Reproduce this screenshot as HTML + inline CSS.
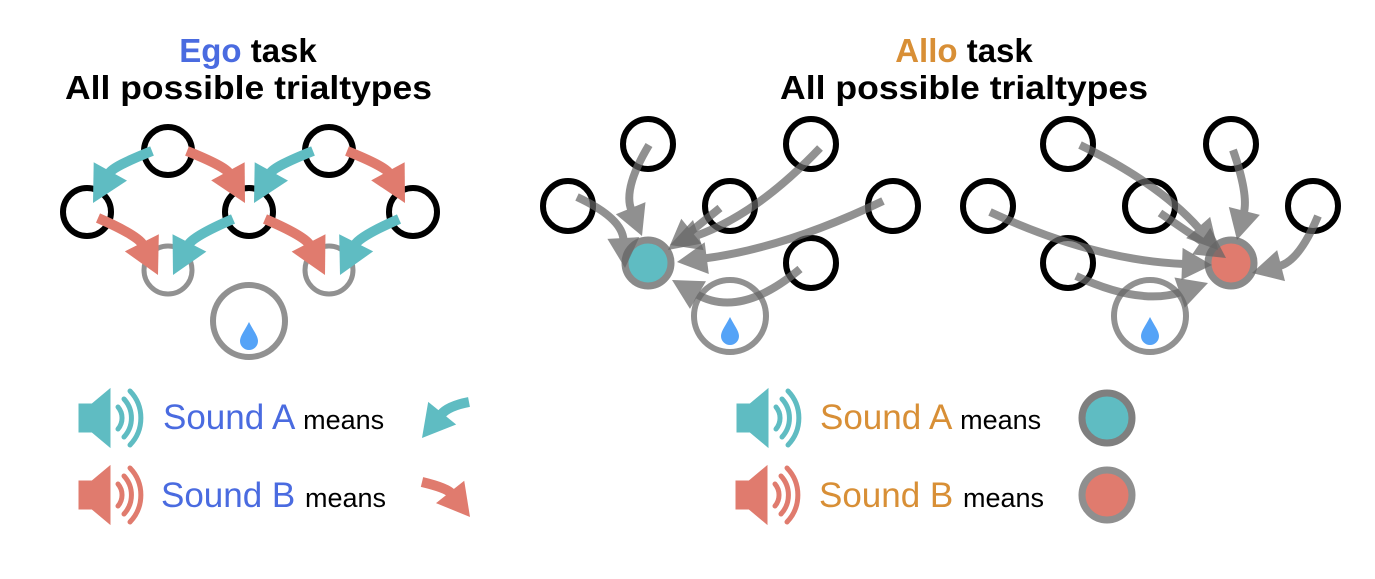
<!DOCTYPE html>
<html><head><meta charset="utf-8"><style>
html,body{margin:0;padding:0;background:#fff;}
svg{display:block;}
text{font-family:"Liberation Sans",Arial,sans-serif;}
</style></head><body>
<svg id="s" width="1375" height="579" viewBox="0 0 1375 579" xmlns="http://www.w3.org/2000/svg">
<defs>
<g id="drop"><path d="M0,-14 C4,-6 9,0 9,5 A9,9 0 0 1 -9,5 C-9,0 -4,-6 0,-14Z" fill="#55a3f7"/></g>
<g id="spk">
<path d="M0,-14 H13 L31,-29 V29 L13,14 H0Z"/>
<path d="M39,-11 A17,17 0 0 1 39,11" fill="none" stroke-width="5" stroke-linecap="round"/>
<path d="M45,-19 A28,28 0 0 1 45,19" fill="none" stroke-width="5" stroke-linecap="round"/>
<path d="M51,-27 A39,39 0 0 1 51,27" fill="none" stroke-width="5" stroke-linecap="round"/>
</g>
</defs>
<!-- titles -->
<text x="248" y="62" font-size="33" font-weight="bold" text-anchor="middle"><tspan fill="#4a6be0">Ego</tspan> task</text>
<text x="65" y="99" font-size="33" font-weight="bold" textLength="367" lengthAdjust="spacingAndGlyphs">All possible trialtypes</text>
<text x="964" y="62" font-size="33" font-weight="bold" text-anchor="middle"><tspan fill="#d88f36">Allo</tspan> task</text>
<text x="780" y="99" font-size="33" font-weight="bold" textLength="368" lengthAdjust="spacingAndGlyphs">All possible trialtypes</text>

<!-- ego circles -->
<g fill="none" stroke="#000" stroke-width="6">
<circle cx="168" cy="151" r="24"/><circle cx="329" cy="151" r="24"/>
<circle cx="87" cy="212" r="24"/><circle cx="249" cy="212" r="24"/><circle cx="413" cy="212" r="24"/>
</g>
<g fill="none" stroke="#919191" stroke-width="5">
<circle cx="168" cy="270" r="24"/><circle cx="329" cy="270" r="24"/>
<circle cx="249" cy="321" r="36" stroke-width="6"/>
</g>
<use href="#drop" x="249" y="336"/>

<!-- allo left -->
<g fill="none" stroke="#000" stroke-width="6">
<circle cx="648" cy="144" r="25"/><circle cx="811" cy="144" r="25"/>
<circle cx="568" cy="206" r="25"/><circle cx="730" cy="206" r="25"/><circle cx="893" cy="206" r="25"/>
<circle cx="811" cy="263" r="25"/>
</g>
<circle cx="730" cy="316" r="36" fill="none" stroke="#919191" stroke-width="6"/>
<use href="#drop" x="730" y="331"/>
<circle cx="648" cy="263" r="23" fill="#5fbcc2" stroke="#8a8a8a" stroke-width="7"/>

<!-- allo right -->
<g fill="none" stroke="#000" stroke-width="6">
<circle cx="1068" cy="144" r="25"/><circle cx="1231" cy="144" r="25"/>
<circle cx="988" cy="206" r="25"/><circle cx="1150" cy="206" r="25"/><circle cx="1313" cy="206" r="25"/>
<circle cx="1068" cy="263" r="25"/>
</g>
<circle cx="1150" cy="316" r="36" fill="none" stroke="#919191" stroke-width="6"/>
<use href="#drop" x="1150" y="331"/>
<circle cx="1231" cy="263" r="23" fill="#e07b6e" stroke="#8a8a8a" stroke-width="7"/>

<g id="arrows"></g>

<!-- legend -->
<use href="#spk" x="79" y="418" fill="#5fbcc2" stroke="#5fbcc2"/>
<use href="#spk" x="79" y="495" fill="#e07b6e" stroke="#e07b6e"/>
<text x="163" y="429" font-size="35" fill="#4a6be0">Sound A <tspan fill="#000" font-size="27">means</tspan></text>
<text x="161" y="507" font-size="35" fill="#4a6be0">Sound B <tspan fill="#000" font-size="27">means</tspan></text>

<use href="#spk" x="737" y="418" fill="#5fbcc2" stroke="#5fbcc2"/>
<use href="#spk" x="736" y="495" fill="#e07b6e" stroke="#e07b6e"/>
<text x="820" y="429" font-size="35" fill="#d88f36">Sound A <tspan fill="#000" font-size="27">means</tspan></text>
<text x="819" y="507" font-size="35" fill="#d88f36">Sound B <tspan fill="#000" font-size="27">means</tspan></text>
<circle cx="1107" cy="418" r="25" fill="#5fbcc2" stroke="#7f7f7f" stroke-width="7"/>
<circle cx="1107" cy="495" r="25" fill="#e07b6e" stroke="#8f8f8f" stroke-width="7"/>
</svg>
<script>
var g=document.getElementById('arrows');
var NS="http://www.w3.org/2000/svg";
function arrowC(sx,sy,cx,cy,tx,ty,col,w,hl,hw,op){
  var ex=tx-cx,ey=ty-cy,el=Math.hypot(ex,ey);ex/=el;ey/=el;
  var bx=tx-ex*hl,by=ty-ey*hl;
  var gg=document.createElementNS(NS,'g');
  if(op)gg.setAttribute('opacity',op);
  var p=document.createElementNS(NS,'path');
  p.setAttribute('d','M'+sx+','+sy+' Q'+cx+','+cy+' '+(bx+ex*2)+','+(by+ey*2));
  p.setAttribute('fill','none');p.setAttribute('stroke',col);p.setAttribute('stroke-width',w);
  gg.appendChild(p);
  var h=document.createElementNS(NS,'path');
  var px=-ey*hw/2,py=ex*hw/2;
  h.setAttribute('d','M'+tx+','+ty+' L'+(bx+px)+','+(by+py)+' L'+(bx-px)+','+(by-py)+'Z');
  h.setAttribute('fill',col);
  gg.appendChild(h);
  g.appendChild(gg);
}
function arrow(sx,sy,tx,ty,bend,col,w,hl,hw,op){
  var mx=(sx+tx)/2,my=(sy+ty)/2,dx=tx-sx,dy=ty-sy,L=Math.hypot(dx,dy);
  var cx=mx+(-dy/L)*bend*L,cy=my+(dx/L)*bend*L;
  arrowC(sx,sy,cx,cy,tx,ty,col,w,hl,hw,op);
}
var T="#5fbcc2",S="#e07b6e",G="#666";
var HL=36,HW=38,W=10;
// ego
arrow(152,151,93,203,0.18,T,W,HL,HW);
arrow(187,151,245,203,-0.18,S,W,HL,HW);
arrow(313,151,254,203,0.18,T,W,HL,HW);
arrow(347,151,405,203,-0.18,S,W,HL,HW);
arrow(98,218,158,275,-0.18,S,W,HL,HW);
arrow(233,219,173,275,0.18,T,W,HL,HW);
arrow(265,219,325,275,-0.18,S,W,HL,HW);
arrow(399,219,340,275,0.18,T,W,HL,HW);
// allo left
var o=0.72,GH=30,GW=32,GWd=8;
arrow(577,197,625,268,-0.3,G,GWd,GH,GW,o);
arrow(649,145,642,236,0.25,G,GWd,GH,GW,o);
arrow(720,208,668,250,0,G,GWd,GH,GW,o);
arrow(820,148,670,245,-0.12,G,GWd,GH,GW,o);
arrow(883,201,677,262,-0.08,G,GWd,GH,GW,o);
arrow(800,269,672,280,-0.35,G,GWd,GH,GW,o);
// allo right
arrow(1080,145,1218,250,-0.1,G,GWd,GH,GW,o);
arrow(1160,213,1226,258,0,G,GWd,GH,GW,o);
arrow(1233,150,1237,240,-0.15,G,GWd,GH,GW,o);
arrow(1318,216,1252,273,-0.25,G,GWd,GH,GW,o);
arrow(990,212,1212,265,0.1,G,GWd,GH,GW,o);
arrow(1076,276,1208,283,0.2,G,GWd,GH,GW,o);
// legend arrows
arrowC(469,402,448,406,422,438,T,W,32,36);
arrowC(422,482,447,488,470,517,S,W,32,36);
</script>
</body></html>
